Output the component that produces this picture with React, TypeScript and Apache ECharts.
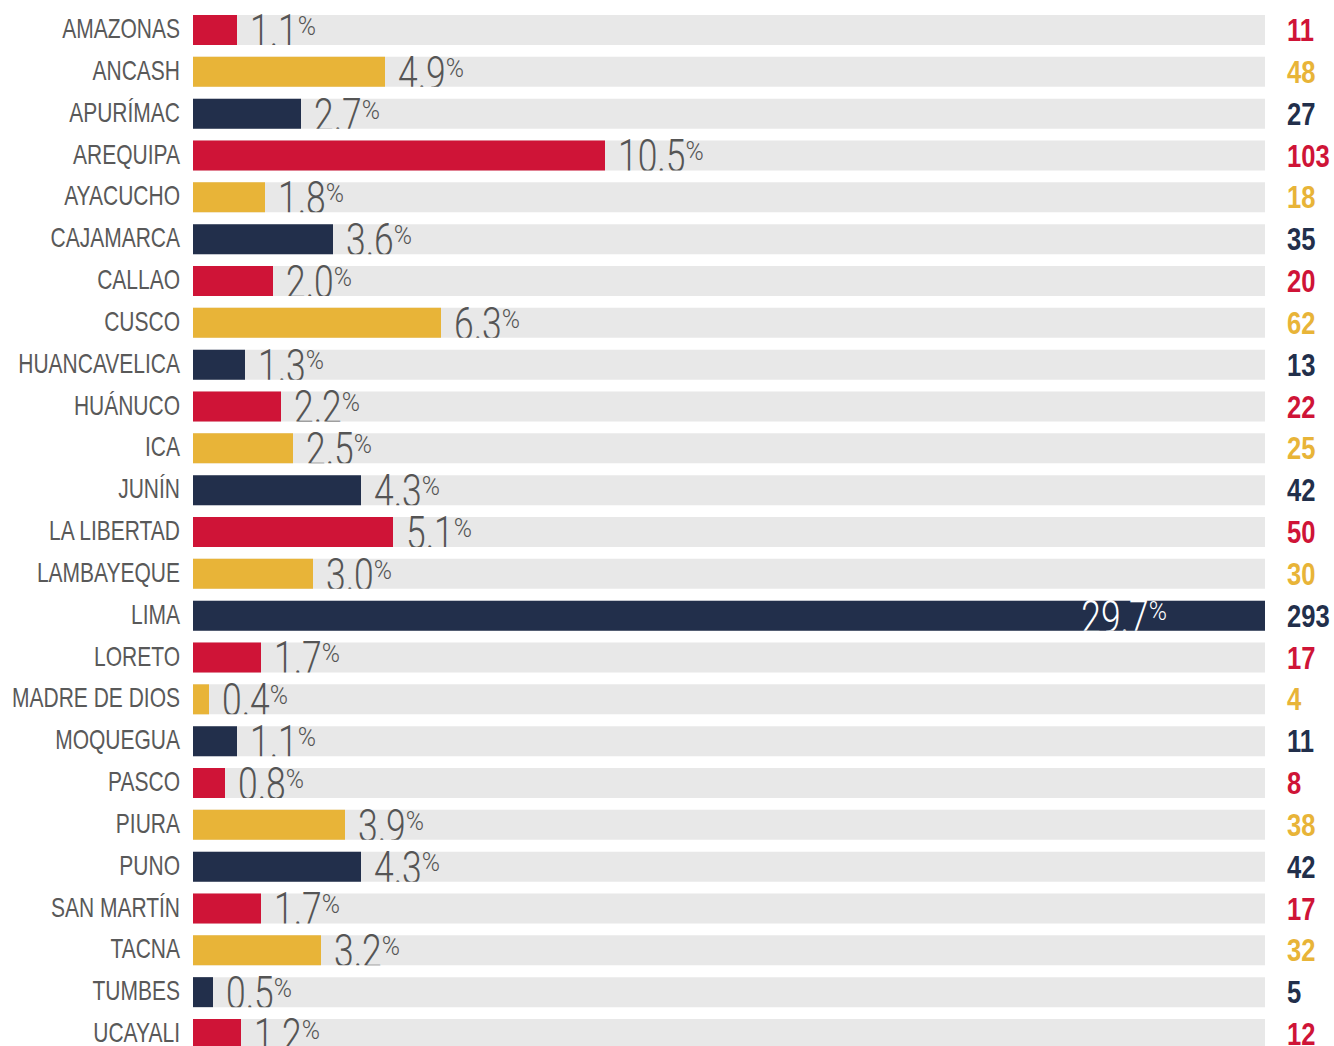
import React, { useEffect, useRef } from "react";
import * as echarts from "echarts";

const regions = [
  "AMAZONAS", "ANCASH", "APURÍMAC", "AREQUIPA", "AYACUCHO", "CAJAMARCA", "CALLAO",
  "CUSCO", "HUANCAVELICA", "HUÁNUCO", "ICA", "JUNÍN", "LA LIBERTAD", "LAMBAYEQUE",
  "LIMA", "LORETO", "MADRE DE DIOS", "MOQUEGUA", "PASCO", "PIURA", "PUNO",
  "SAN MARTÍN", "TACNA", "TUMBES", "UCAYALI",
];
const percents = [
  1.1, 4.9, 2.7, 10.5, 1.8, 3.6, 2.0, 6.3, 1.3, 2.2, 2.5, 4.3, 5.1, 3.0,
  29.7, 1.7, 0.4, 1.1, 0.8, 3.9, 4.3, 1.7, 3.2, 0.5, 1.2,
];
const counts = [
  11, 48, 27, 103, 18, 35, 20, 62, 13, 22, 25, 42, 50, 30,
  293, 17, 4, 11, 8, 38, 42, 17, 32, 5, 12,
];
const palette = ["#cf1437", "#e8b438", "#222f4b"];
const X_MAX = 268;

const PCT_FONT = "Roboto";
const PCT_SIZE = 46;
const PCT_SX = 0.77;
const PCT_SIGN_SIZE = 26;
const PCT_SIGN_SX = 0.95;

let measureCtx: CanvasRenderingContext2D | null = null;
function measure(text: string, font: string) {
  if (!measureCtx) measureCtx = document.createElement("canvas").getContext("2d");
  if (!measureCtx) return text.length * 20;
  measureCtx.font = font;
  return measureCtx.measureText(text).width;
}

export default function App() {
  const ref = useRef<HTMLDivElement>(null);
  useEffect(() => {
    document.body.style.margin = "0";
    document.documentElement.style.overflow = "hidden";
    document.body.style.overflow = "hidden";
    if (!ref.current) return;
    const chart = echarts.init(ref.current, undefined, { renderer: "svg" });
    const barHalf = 15;
    const option: any = {
      animation: false,
      grid: { left: 193, top: 9.1, width: 1072, height: 1045.8, containLabel: false },
      xAxis: { type: "value", min: 0, max: X_MAX, show: false },
      yAxis: {
        type: "category",
        data: regions,
        inverse: true,
        show: false,
      },
      series: [
        {
          type: "bar",
          z: 2,
          data: counts.map((c, i) => ({ value: c, itemStyle: { color: palette[i % 3] } })),
          barWidth: 30,
          showBackground: true,
          backgroundStyle: { color: "#e8e8e8" },
          silent: true,
        },
        {
          type: "custom",
          z: 5,
          clip: false,
          silent: true,
          data: counts.map((c, i) => [c, i, percents[i]]),
          encode: { x: 0, y: 1 },
          renderItem: (params: any, api: any) => {
            const v = api.value(0);
            const idx = api.value(1);
            const pct = api.value(2);
            const cs = params.coordSys;
            const gridRight = cs.x + cs.width;
            const end = api.coord([Math.min(v, X_MAX), idx]);
            const xEnd = end[0];
            const yc = end[1];
            const color = palette[idx % 3];
            const barTop = yc - barHalf;
            const barBottom = yc + barHalf;

            const numStr = pct.toFixed(1);
            const numW = measure(numStr, `300 ${PCT_SIZE}px ${PCT_FONT}`) * PCT_SX;
            const signW = measure("%", `300 ${PCT_SIGN_SIZE}px ${PCT_FONT}`) * PCT_SIGN_SX;
            let numX = xEnd + 13;
            let pctColor = "#555555";
            if (numX + numW + signW > gridRight) {
              numX = gridRight - 98 - signW - numW;
              pctColor = "#ffffff";
            }
            const numY = barBottom + 2 - 0.342 * PCT_SIZE;
            const signY = barTop + 1 + 0.369 * PCT_SIGN_SIZE;

            return {
              type: "group",
              children: [
                {
                  type: "text",
                  x: cs.x - 13,
                  y: yc - 1.5,
                  scaleX: 0.75,
                  style: {
                    x: 0,
                    y: 0,
                    text: regions[idx],
                    fill: "#595959",
                    font: "400 28px 'Liberation Sans', Arial, sans-serif",
                    align: "right",
                    verticalAlign: "middle",
                  },
                },
                {
                  type: "text",
                  x: gridRight + 22,
                  y: yc,
                  scaleX: 0.8,
                  style: {
                    x: 0,
                    y: 0,
                    text: String(v),
                    fill: color,
                    font: "700 32px 'Liberation Sans', Arial, sans-serif",
                    align: "left",
                    verticalAlign: "middle",
                  },
                },
                {
                  type: "group",
                  clipPath: {
                    type: "rect",
                    shape: { x: cs.x, y: barTop - 8, width: 1200, height: 38 },
                  },
                  children: [
                    {
                      type: "text",
                      x: numX,
                      y: numY,
                      scaleX: PCT_SX,
                      style: {
                        x: 0,
                        y: 0,
                        text: numStr,
                        fill: pctColor,
                        font: `300 ${PCT_SIZE}px ${PCT_FONT}`,
                        align: "left",
                        verticalAlign: "middle",
                      },
                    },
                    {
                      type: "text",
                      x: numX + numW,
                      y: signY,
                      scaleX: PCT_SIGN_SX,
                      style: {
                        x: 0,
                        y: 0,
                        text: "%",
                        fill: pctColor,
                        font: `300 ${PCT_SIGN_SIZE}px ${PCT_FONT}`,
                        align: "left",
                        verticalAlign: "middle",
                      },
                    },
                  ],
                },
              ],
            };
          },
        },
      ],
    };
    chart.setOption(option);
    return () => chart.dispose();
  }, []);
  return <div ref={ref} style={{ width: 1334, height: 1056 }} />;
}
